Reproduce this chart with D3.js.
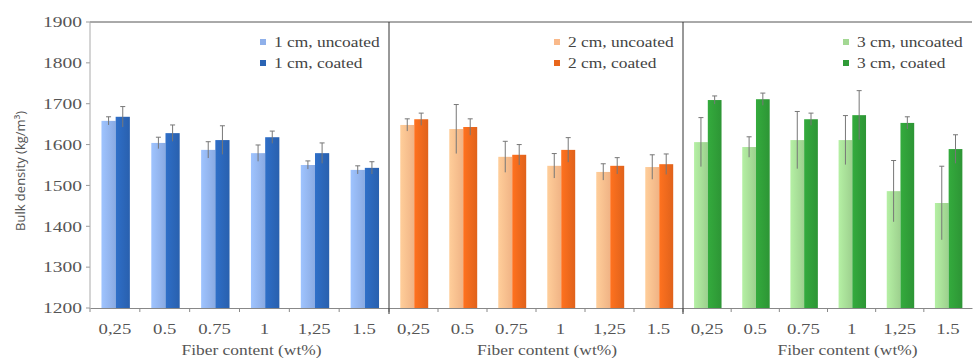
<!DOCTYPE html>
<html>
<head>
<meta charset="utf-8">
<script src="https://cdn.jsdelivr.net/npm/d3@7"></script>
<style>
  body { margin: 0; background: #fff; }
</style>
</head>
<body>
<div id="chart"></div>
<script>
// Data
const fiberContent = ["0.25", "0.5", "0.75", "1", "1.25", "1.5"];
const tickLabels = ["0,25", "0.5", "0.75", "1", "1,25", "1.5"];
const lengths = ["1 cm", "2 cm", "3 cm"];

const uncoated1 = [1658, 1604, 1587, 1579, 1550, 1538];
const coated1   = [1668, 1628, 1611, 1618, 1579, 1543];
const uncoated2 = [1648, 1638, 1570, 1548, 1533, 1545];
const coated2   = [1662, 1643, 1575, 1587, 1548, 1552];
const uncoated3 = [1606, 1594, 1611, 1611, 1486, 1457];
const coated3   = [1709, 1711, 1662, 1672, 1653, 1589];

const errUncoated1 = [10, 14, 20, 20, 10, 10];
const errCoated1   = [25, 20, 35, 15, 25, 15];
const errUncoated2 = [15, 60, 38, 30, 20, 30];
const errCoated2   = [15, 20, 25, 30, 20, 25];
const errUncoated3 = [60, 25, 70, 60, 75, 90];
const errCoated3   = [10, 15, 15, 60, 15, 35];

const yTicks = [1200, 1300, 1400, 1500, 1600, 1700, 1800, 1900];

const panels = [
  { len: lengths[0], unc: uncoated1, coa: coated1, eu: errUncoated1, ec: errCoated1, cu: "#8fb0ea", cc: "#2a64b4" },
  { len: lengths[1], unc: uncoated2, coa: coated2, eu: errUncoated2, ec: errCoated2, cu: "#f9b98a", cc: "#e8661c" },
  { len: lengths[2], unc: uncoated3, coa: coated3, eu: errUncoated3, ec: errCoated3, cu: "#a3d893", cc: "#2f9a37" }
];

const serif = "'Liberation Serif', 'Times New Roman', serif";
// the source image is stretched sideways, so text is widened a little
const stretch = "scale(1.25,1)";
const stretchSmall = "scale(1.16,1)";

// Layout
const W = 973, H = 358;
const plotTop = 22, plotBottom = 308;
const edges = [90, 389, 683, 972];
const titleShift = [12, 11, 20];

const svg = d3.select("#chart").append("svg")
  .attr("width", W)
  .attr("height", H);

const y = d3.scaleLinear().domain([1200, 1900]).range([plotBottom, plotTop]);

// y axis labels
svg.append("g")
  .selectAll("text")
  .data(yTicks)
  .join("text")
  .attr("transform", d => `translate(82,${y(d)}) scale(1.3,1)`)
  .attr("dy", "0.35em")
  .attr("text-anchor", "end")
  .style("font-family", serif)
  .style("font-size", "15px")
  .style("fill", "#555")
  .text(d => d);

svg.append("g")
  .selectAll("line")
  .data(yTicks)
  .join("line")
  .attr("x1", 86).attr("x2", 90)
  .attr("y1", d => y(d)).attr("y2", d => y(d))
  .attr("stroke", "#999");

svg.append("text")
  .attr("transform", `translate(25,${(plotTop + plotBottom) / 2 + 6}) rotate(-90)`)
  .attr("text-anchor", "middle")
  .style("font-family", "'Open Sans', 'DejaVu Sans', sans-serif")
  .style("font-size", "13px")
  .style("fill", "#555")
  .text("Bulk density (kg/m³)");

// gradients so bars look a bit shaded like the original
const defs = svg.append("defs");
function addGrad(id, color) {
  const g = defs.append("linearGradient").attr("id", id)
    .attr("x1", "0%").attr("x2", "100%").attr("y1", "0%").attr("y2", "0%");
  g.append("stop").attr("offset", "0%").attr("stop-color", d3.color(color).brighter(0.3));
  g.append("stop").attr("offset", "100%").attr("stop-color", d3.color(color).darker(0.1));
}

panels.forEach((p, i) => {
  const x0 = d3.scaleBand().domain(fiberContent).range([edges[i], edges[i + 1]]);
  const bw = x0.bandwidth();
  const x1 = d3.scaleBand().domain(["unc", "coa"]).range([bw * 0.23, bw * 0.8]);

  addGrad("gu" + i, p.cu);
  addGrad("gc" + i, p.cc);

  const g = svg.append("g");

  const rows = fiberContent.map((f, j) => [
    { f, key: "unc", v: p.unc[j], e: p.eu[j], fill: `url(#gu${i})` },
    { f, key: "coa", v: p.coa[j], e: p.ec[j], fill: `url(#gc${i})` }
  ]).flat();

  g.selectAll("rect.bar")
    .data(rows)
    .join("rect")
    .attr("class", "bar")
    .attr("x", d => x0(d.f) + x1(d.key))
    .attr("width", x1.bandwidth())
    .attr("y", d => y(d.v))
    .attr("height", d => y(1200) - y(d.v))
    .attr("fill", d => d.fill);

  // error bars
  const eb = g.selectAll("g.err")
    .data(rows)
    .join("g")
    .attr("class", "err")
    .attr("transform", d => `translate(${x0(d.f) + x1(d.key) + x1.bandwidth() / 2},0)`);
  eb.append("line")
    .attr("y1", d => y(d.v - d.e)).attr("y2", d => y(d.v + d.e))
    .attr("stroke", "#777").attr("stroke-width", 1);
  eb.append("line")
    .attr("x1", -2.5).attr("x2", 2.5)
    .attr("y1", d => y(d.v + d.e)).attr("y2", d => y(d.v + d.e))
    .attr("stroke", "#777").attr("stroke-width", 1);

  // x axis
  const xAxis = d3.axisBottom(x0)
    .tickSize(0)
    .tickFormat((d, j) => tickLabels[j]);
  const ax = svg.append("g")
    .attr("transform", `translate(0,${plotBottom})`)
    .call(xAxis);
  ax.select(".domain").attr("stroke", "#888");
  ax.selectAll("text")
    .attr("y", 15)
    .attr("transform", stretch)
    .style("font-size", "15px")
    .style("font-family", serif)
    .style("fill", "#555");

  // category boundary ticks
  svg.append("g")
    .selectAll("line")
    .data(fiberContent)
    .join("line")
    .attr("x1", d => x0(d)).attr("x2", d => x0(d))
    .attr("y1", plotBottom).attr("y2", plotBottom + 4)
    .attr("stroke", "#888");

  svg.append("text")
    .attr("transform", `translate(${(edges[i] + edges[i + 1]) / 2 + titleShift[i]},355) ${stretchSmall}`)
    .attr("text-anchor", "middle")
    .style("font-family", serif)
    .style("font-size", "15px")
    .style("fill", "#555")
    .text("Fiber content (wt%)");

  // legend
  const lx = edges[i + 1] - 126;
  const leg = svg.append("g");
  [["uncoated", p.cu], ["coated", p.cc]].forEach((l, k) => {
    leg.append("rect")
      .attr("x", lx - 3).attr("y", 42 + k * 21 - 3)
      .attr("width", 6).attr("height", 6)
      .attr("fill", l[1]);
    leg.append("text")
      .attr("transform", `translate(${lx + 11},${42 + k * 21}) ${stretchSmall}`)
      .attr("dy", "0.35em")
      .style("font-family", serif)
      .style("font-size", "15px")
      .style("fill", "#444")
      .text(`${p.len}, ${l[0]}`);
  });
});

// frame lines
svg.append("line")
  .attr("x1", 90).attr("x2", 972).attr("y1", plotTop).attr("y2", plotTop)
  .attr("stroke", "#555");
svg.append("line")
  .attr("x1", 90).attr("x2", 90).attr("y1", plotTop).attr("y2", plotBottom)
  .attr("stroke", "#aaa");
[edges[1], edges[2]].forEach(xe => {
  svg.append("line")
    .attr("x1", xe).attr("x2", xe).attr("y1", plotTop).attr("y2", plotBottom + 6)
    .attr("stroke", "#333");
});
</script>
</body>
</html>
